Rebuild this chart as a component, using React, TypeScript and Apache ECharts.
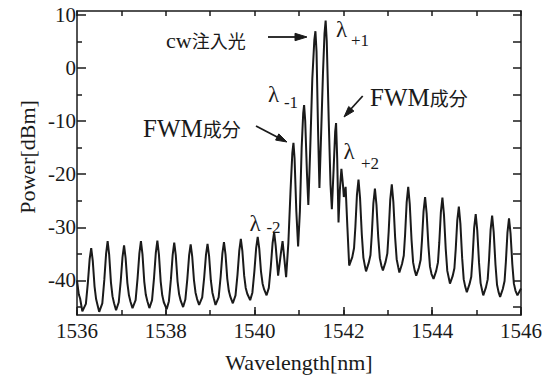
import React, { useEffect, useRef } from "react";
import * as echarts from "echarts";

// Spectrum, Wavelength [nm] vs Power [dBm]
const leftBand: [number, number][] = [
  [1536.0, -40.0], [1536.04, -42.6], [1536.07, -43.4], [1536.12, -45.8],
  [1536.2, -44.4], [1536.245, -40.4], [1536.285, -36.0], [1536.32, -33.9], [1536.355, -36.3], [1536.395, -41.1], [1536.43, -43.5], [1536.465, -44.7], [1536.5, -45.9],
  [1536.57, -44.3], [1536.615, -39.9], [1536.655, -35.0], [1536.69, -32.6], [1536.725, -35.2], [1536.765, -40.4], [1536.8, -43.0], [1536.835, -44.3], [1536.88, -45.6],
  [1536.94, -44.1], [1536.985, -40.1], [1537.025, -35.6], [1537.06, -33.4], [1537.095, -35.8], [1537.135, -40.5], [1537.17, -42.8], [1537.205, -44.0], [1537.25, -45.2],
  [1537.32, -43.7], [1537.365, -39.5], [1537.405, -34.9], [1537.44, -32.6], [1537.475, -35.1], [1537.515, -40.2], [1537.55, -42.7], [1537.585, -43.9], [1537.63, -45.2],
  [1537.69, -43.7], [1537.735, -39.5], [1537.775, -34.8], [1537.81, -32.5], [1537.845, -35.1], [1537.885, -40.2], [1537.92, -42.8], [1537.955, -44.1], [1538.02, -45.4],
  [1538.07, -43.9], [1538.115, -39.8], [1538.155, -35.2], [1538.19, -32.9], [1538.225, -35.3], [1538.265, -40.2], [1538.3, -42.6], [1538.335, -43.8], [1538.39, -45.0],
  [1538.44, -43.6], [1538.485, -39.7], [1538.525, -35.3], [1538.56, -33.2], [1538.595, -35.5], [1538.635, -40.0], [1538.67, -42.3], [1538.705, -43.5], [1538.75, -44.6],
  [1538.82, -43.2], [1538.865, -39.4], [1538.905, -35.2], [1538.94, -33.1], [1538.975, -35.4], [1539.015, -40.0], [1539.05, -42.3], [1539.085, -43.5], [1539.12, -44.6],
  [1539.19, -43.2], [1539.235, -39.3], [1539.275, -34.9], [1539.31, -32.8], [1539.345, -35.1], [1539.385, -39.7], [1539.42, -42.0], [1539.455, -43.1], [1539.51, -44.3],
  [1539.57, -42.8], [1539.615, -38.9], [1539.655, -34.4], [1539.69, -32.2], [1539.725, -34.5], [1539.765, -39.1], [1539.8, -41.4], [1539.835, -42.5], [1539.9, -43.7],
  [1539.95, -42.3], [1539.995, -38.3], [1540.035, -33.9], [1540.07, -31.8], [1540.105, -34.0], [1540.145, -38.4], [1540.18, -40.6], [1540.215, -41.7], [1540.27, -42.8],
];

const centerPeaks: [number, number][] = [
  [1540.32, -41.4], [1540.365, -37.4], [1540.405, -33.0], [1540.44, -30.9], [1540.475, -33.5], [1540.53, -39.1],
  [1540.59, -35.0], [1540.63, -32.6], [1540.665, -35.5], [1540.71, -39.4],
  [1540.76, -33.0], [1540.81, -23.0], [1540.85, -16.0], [1540.875, -14.1], [1540.9, -17.0], [1540.94, -27.0], [1540.98, -33.6],
  [1541.02, -27.0], [1541.06, -15.0], [1541.095, -8.5], [1541.115, -7.0], [1541.14, -10.0], [1541.18, -20.0], [1541.21, -25.8],
  [1541.25, -16.0], [1541.3, -2.0], [1541.345, 5.2], [1541.37, 6.9], [1541.395, 3.0], [1541.43, -12.0], [1541.46, -22.6],
  [1541.5, -12.0], [1541.54, -1.0], [1541.575, 6.5], [1541.6, 8.9], [1541.625, 5.0], [1541.67, -10.0], [1541.71, -22.0], [1541.74, -26.6],
  [1541.78, -19.0], [1541.815, -12.0], [1541.835, -10.4], [1541.86, -17.0], [1541.89, -29.1],
  [1541.92, -23.0], [1541.955, -19.0], [1541.99, -22.0], [1542.01, -24.3], [1542.05, -22.4], [1542.09, -30.0], [1542.13, -37.2],
];

const rightBand: [number, number][] = [
  [1542.2, -35.6], [1542.24, -33.9], [1542.27, -29.9], [1542.305, -23.9], [1542.34, -21.0], [1542.375, -24.5], [1542.415, -31.4], [1542.45, -35.7], [1542.485, -37.3], [1542.51, -38.3],
  [1542.57, -36.7], [1542.61, -35.2], [1542.64, -31.3], [1542.675, -25.5], [1542.71, -22.7], [1542.745, -25.8], [1542.785, -31.9], [1542.82, -35.8], [1542.855, -37.2], [1542.89, -38.1],
  [1542.95, -36.5], [1542.99, -34.9], [1543.02, -30.8], [1543.055, -24.8], [1543.09, -21.9], [1543.125, -25.2], [1543.165, -31.9], [1543.2, -36.0], [1543.235, -37.5], [1543.26, -38.5],
  [1543.32, -36.9], [1543.36, -35.3], [1543.39, -31.3], [1543.425, -25.3], [1543.46, -22.4], [1543.495, -25.7], [1543.535, -32.4], [1543.57, -36.6], [1543.605, -38.1], [1543.64, -39.1],
  [1543.7, -37.6], [1543.74, -36.1], [1543.77, -32.4], [1543.805, -27.0], [1543.84, -24.3], [1543.875, -27.4], [1543.915, -33.5], [1543.95, -37.4], [1543.985, -38.8], [1544.03, -39.7],
  [1544.09, -38.2], [1544.13, -36.6], [1544.16, -32.8], [1544.195, -27.2], [1544.23, -24.4], [1544.265, -27.6], [1544.305, -34.1], [1544.34, -38.2], [1544.375, -39.6], [1544.4, -40.6],
  [1544.46, -39.2], [1544.5, -37.7], [1544.53, -34.1], [1544.565, -28.7], [1544.6, -26.1], [1544.635, -29.3], [1544.675, -35.8], [1544.71, -39.8], [1544.745, -41.2], [1544.78, -42.2],
  [1544.84, -40.7], [1544.88, -39.3], [1544.91, -35.6], [1544.945, -30.1], [1544.98, -27.5], [1545.015, -30.6], [1545.055, -36.7], [1545.09, -40.5], [1545.125, -41.9], [1545.15, -42.8],
  [1545.21, -41.3], [1545.25, -39.8], [1545.28, -36.1], [1545.315, -30.5], [1545.35, -27.8], [1545.385, -30.9], [1545.425, -37.0], [1545.46, -40.8], [1545.495, -42.2], [1545.53, -43.1],
  [1545.59, -41.6], [1545.63, -40.1], [1545.66, -36.4], [1545.695, -31.0], [1545.73, -28.3], [1545.765, -31.2], [1545.805, -37.0], [1545.84, -40.6], [1545.875, -41.9], [1545.92, -42.8],
  [1546.0, -41.5],
];

const yLabelValues = [-40, -30, -20, -10, 0, 10];
const yMinorValues = [-45, -35, -25, -15, -5, 5];
const yAllValues = [-45, -40, -35, -30, -25, -20, -15, -10, -5, 0, 5, 10];

const SERIF = "Liberation Serif";
const CJK = "Noto Sans CJK JP";
const INK = "#1a1a1a";

export default function App() {
  const ref = useRef<HTMLDivElement>(null);
  useEffect(() => {
    if (!ref.current) return;
    const chart = echarts.init(ref.current, undefined, { renderer: "svg" });
    const Y_MIN = -46.5;
    const Y_MAX = 10.7;
    const lineStyle = { color: INK, width: 1.5 };
    const arrowHead = (pts: number[][]) => ({
      type: "polygon",
      shape: { points: pts },
      style: { fill: INK, stroke: INK, lineWidth: 1 },
      z: 100,
    });
    const arrowLine = (x1: number, y1: number, x2: number, y2: number) => ({
      type: "line",
      shape: { x1, y1, x2, y2 },
      style: { stroke: INK, lineWidth: 1.8 },
      z: 100,
    });
    const lam = (x: number, y: number, sub: string, sx: number, sy: number) => [
      {
        type: "text",
        x,
        y,
        style: { text: "λ", fontFamily: SERIF, fontSize: 23, fill: INK, align: "center", verticalAlign: "middle" },
        z: 100,
      },
      {
        type: "text",
        x: sx,
        y: sy,
        style: { text: sub, fontFamily: SERIF, fontSize: 17, fill: INK, align: "center", verticalAlign: "middle" },
        z: 100,
      },
    ];
    const fwmText = (x: number, y: number) => ({
      type: "text",
      x,
      y,
      style: {
        text: "{a|FWM}{b|成分}",
        align: "left",
        verticalAlign: "middle",
        fill: INK,
        rich: {
          a: { fontFamily: SERIF, fontSize: 25, fill: INK },
          b: { fontFamily: CJK, fontSize: 19, fill: INK },
        },
      },
      z: 100,
    });

    chart.setOption({
      animation: false,
      backgroundColor: "#ffffff",
      grid: { left: 77, right: 33, top: 11, bottom: 58, containLabel: false },
      xAxis: [
        {
          type: "value",
          position: "bottom",
          min: 1536,
          max: 1546,
          interval: 2,
          axisLine: { show: true, onZero: false, lineStyle },
          axisTick: { show: true, inside: true, length: 8, lineStyle },
          axisLabel: {
            show: true,
            margin: 5,
            fontFamily: SERIF,
            fontSize: 21,
            color: INK,
            formatter: (v: number) => String(Math.round(v)),
          },
          splitLine: { show: false },
          name: "Wavelength[nm]",
          nameLocation: "middle",
          nameGap: 36,
          nameTextStyle: { fontFamily: SERIF, fontSize: 22, color: INK },
        },
        {
          type: "value",
          position: "bottom",
          min: 1536,
          max: 1546,
          interval: 1,
          axisLine: { show: false, onZero: false },
          axisTick: { show: true, inside: true, length: 5, lineStyle },
          axisLabel: { show: false },
          splitLine: { show: false },
        },
        {
          type: "value",
          position: "top",
          min: 1536,
          max: 1546,
          interval: 1,
          axisLine: { show: true, onZero: false, lineStyle },
          axisTick: { show: true, inside: true, length: 5, lineStyle },
          axisLabel: { show: false },
          splitLine: { show: false },
        },
      ],
      yAxis: [
        {
          type: "value",
          position: "left",
          min: Y_MIN,
          max: Y_MAX,
          axisLine: { show: true, onZero: false, lineStyle },
          axisTick: { show: true, inside: true, length: 9, lineStyle, customValues: yLabelValues },
          axisLabel: {
            show: true,
            margin: 1,
            fontFamily: SERIF,
            fontSize: 21,
            color: INK,
            customValues: yLabelValues,
            formatter: (v: number) => String(Math.round(v)),
          },
          splitLine: { show: false },
        },
        {
          type: "value",
          position: "left",
          min: Y_MIN,
          max: Y_MAX,
          axisLine: { show: false, onZero: false },
          axisTick: { show: true, inside: true, length: 5, lineStyle, customValues: yMinorValues },
          axisLabel: { show: false },
          splitLine: { show: false },
        },
        {
          type: "value",
          position: "right",
          min: Y_MIN,
          max: Y_MAX,
          axisLine: { show: true, onZero: false, lineStyle },
          axisTick: { show: true, inside: true, length: 8, lineStyle, customValues: yAllValues },
          axisLabel: { show: false },
          splitLine: { show: false },
        },
      ],
      series: [
        {
          type: "line",
          xAxisIndex: 0,
          yAxisIndex: 0,
          data: [...leftBand, ...centerPeaks, ...rightBand],
          showSymbol: false,
          symbol: "none",
          lineStyle: { color: INK, width: 2 },
          clip: true,
          z: 5,
        },
      ],
      graphic: [
        {
          type: "text",
          x: 27,
          y: 157,
          rotation: Math.PI / 2,
          style: { text: "Power[dBm]", fontFamily: SERIF, fontSize: 22, fill: INK, align: "center", verticalAlign: "middle" },
        },
        {
          type: "text",
          x: 166,
          y: 40,
          style: {
            text: "{a|cw}{b|注入光}",
            align: "left",
            verticalAlign: "middle",
            fill: INK,
            rich: {
              a: { fontFamily: SERIF, fontSize: 22, fill: INK },
              b: { fontFamily: CJK, fontSize: 18, fill: INK },
            },
          },
          z: 100,
        },
        arrowLine(268, 37, 297, 37),
        arrowHead([[307, 37], [295, 33.3], [295, 40.7]]),
        fwmText(143, 128),
        arrowLine(256, 126, 279, 138),
        arrowHead([[287, 142], [275.6, 140.1], [278.8, 133.9]]),
        fwmText(370, 97),
        arrowLine(362.7, 96, 350, 110),
        arrowHead([[344, 117], [353.9, 111.1], [348.7, 106.5]]),
        ...lam(341.5, 29.5, "+1", 360, 40),
        ...lam(273.5, 94, "-1", 291, 102),
        ...lam(349, 151, "+2", 370, 163),
        ...lam(255, 223.5, "-2", 273.5, 227),
      ],
    });
    return () => chart.dispose();
  }, []);
  return (
    <div
      ref={ref}
      style={{ position: "absolute", left: 0, top: 0, width: 554, height: 378, background: "#fff" }}
    />
  );
}
